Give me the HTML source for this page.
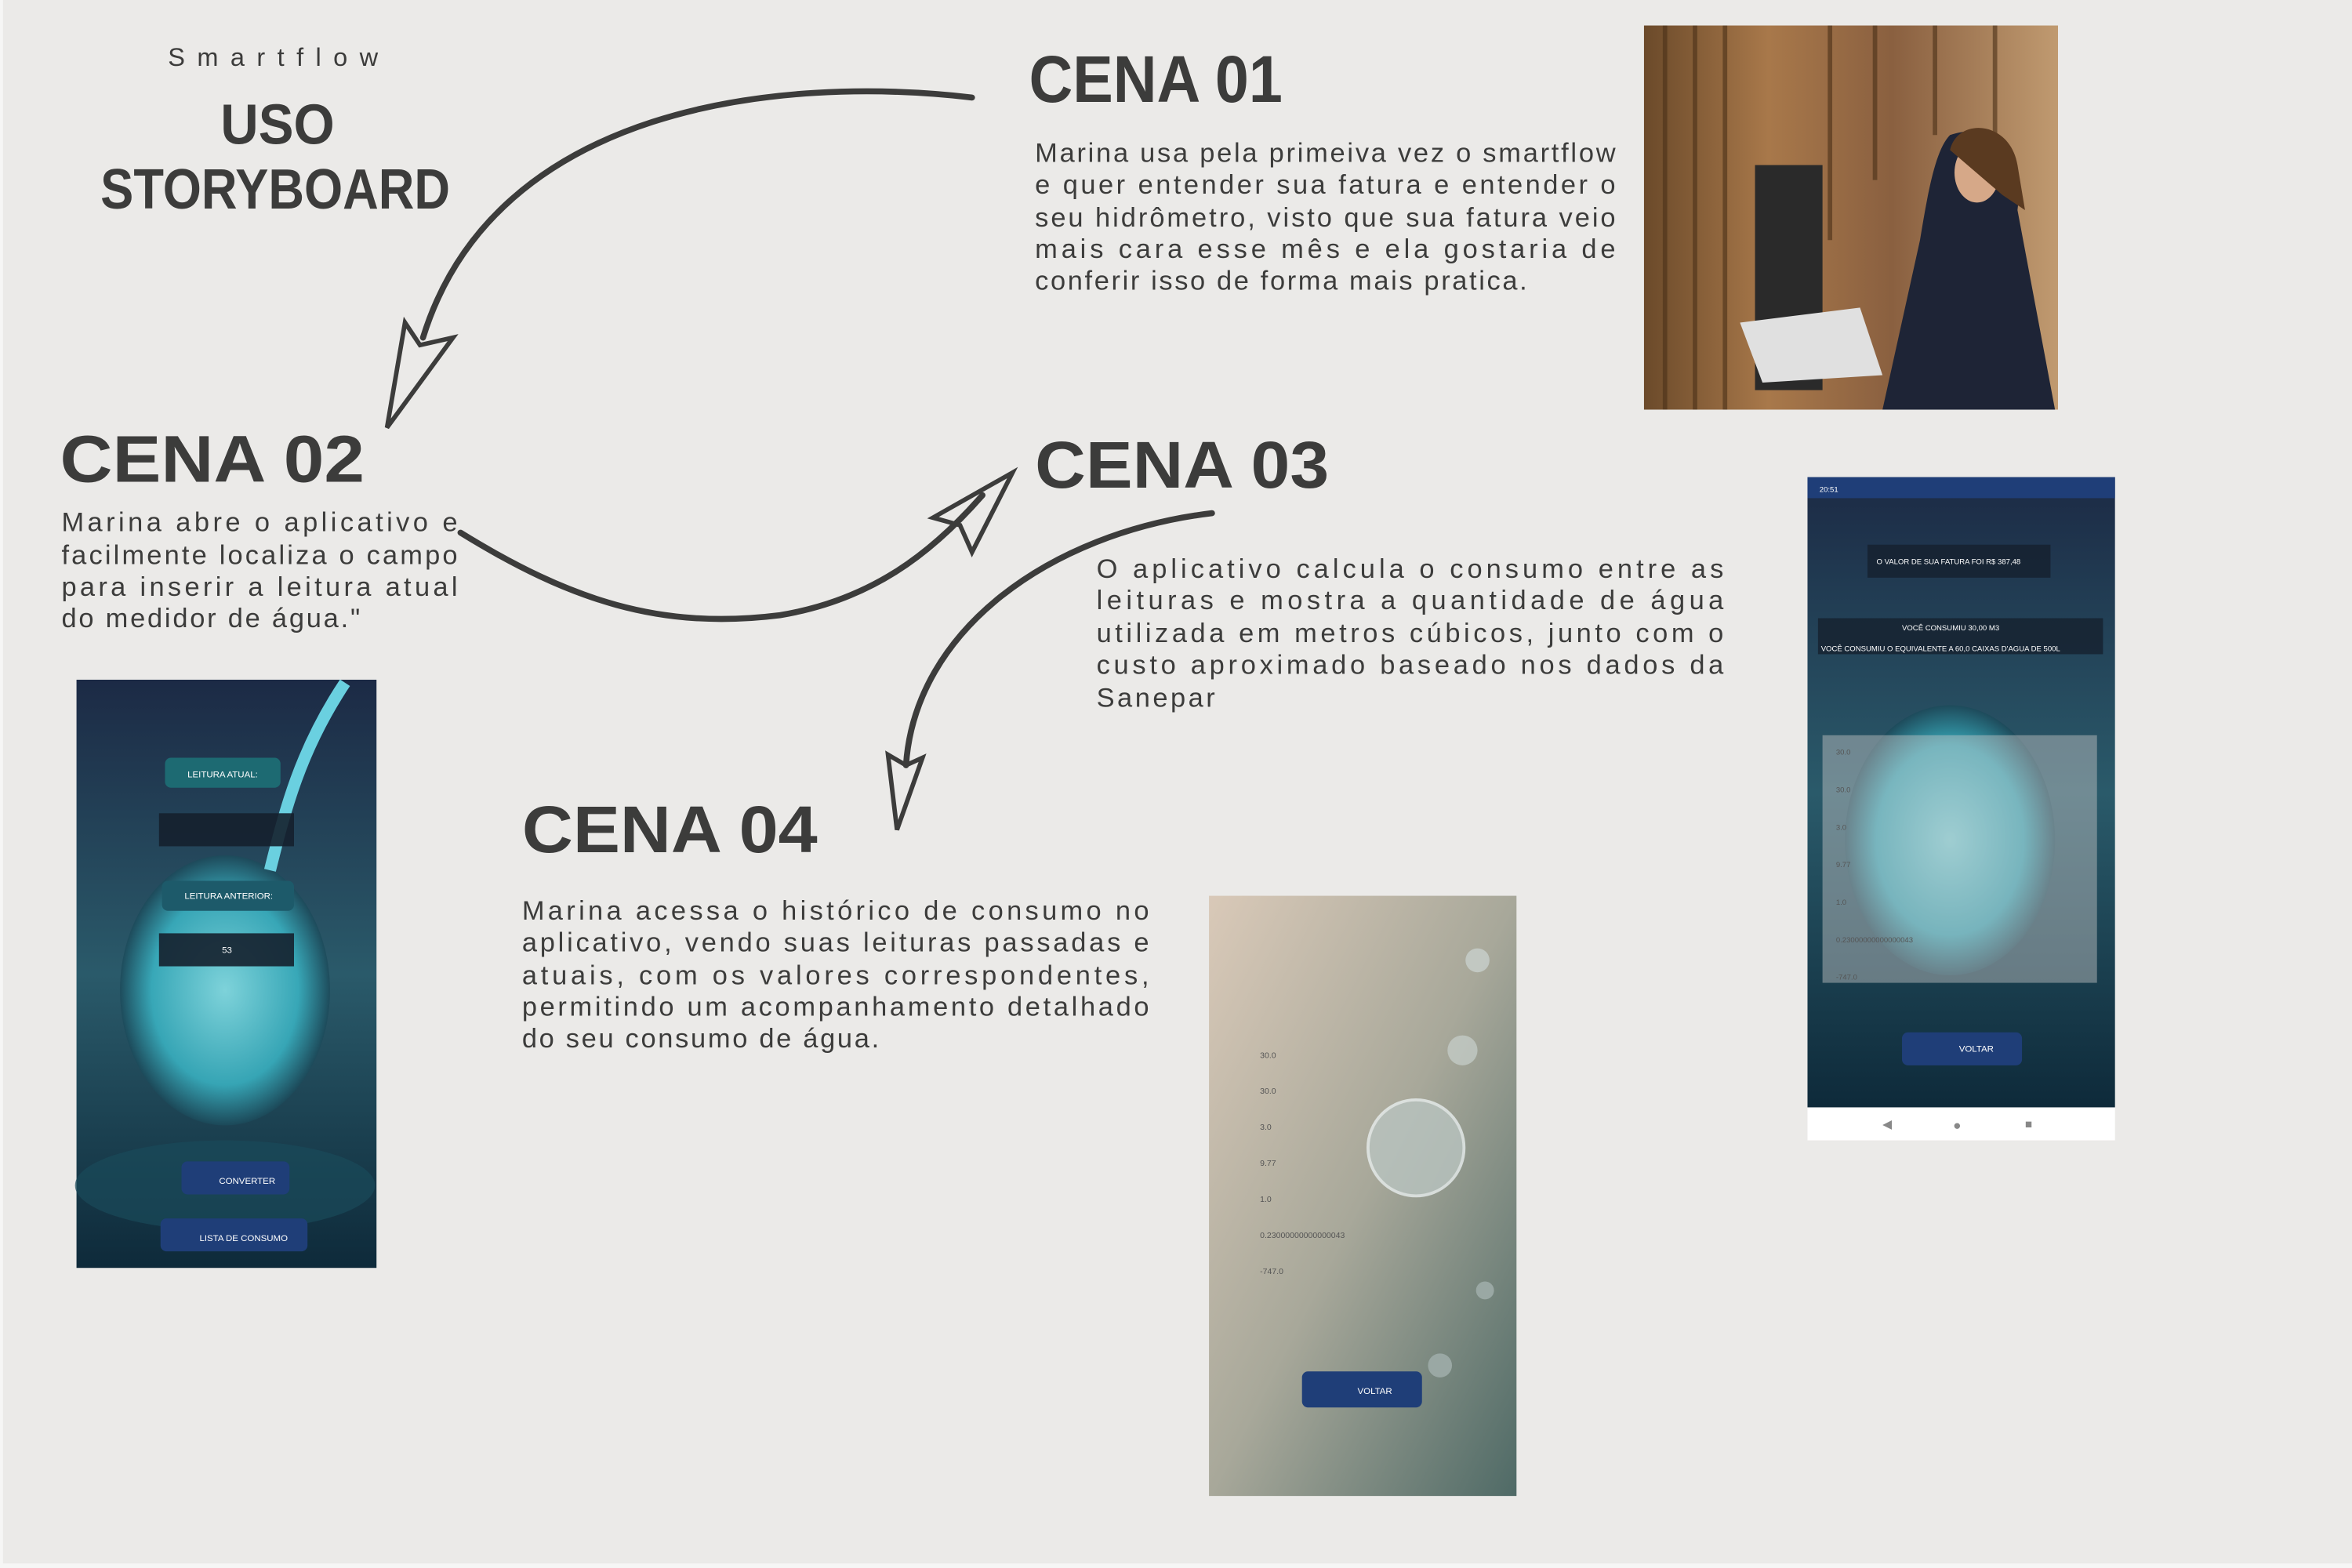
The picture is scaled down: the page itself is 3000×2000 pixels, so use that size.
<!DOCTYPE html>
<html><head><meta charset="utf-8"><style>
html,body{margin:0;padding:0;background:#ebeae8;}
svg{display:block}
.h{font-family:"Liberation Sans",sans-serif;font-weight:900;fill:#3c3c3b}
.p{font-family:"Liberation Sans",sans-serif;font-size:18px;fill:#3c3c3b}
.s{font-family:"Liberation Sans",sans-serif;fill:#fff;font-size:6px}
</style></head><body>
<svg width="3000" height="2000" viewBox="0 0 1568 1045" preserveAspectRatio="none" xmlns="http://www.w3.org/2000/svg">
<defs>
<linearGradient id="wood" x1="0" x2="1"><stop offset="0" stop-color="#6b4a2a"/><stop offset="0.3" stop-color="#a8784a"/><stop offset="0.6" stop-color="#8a6040"/><stop offset="1" stop-color="#c09a70"/></linearGradient>
<linearGradient id="ph" x1="0" y1="0" x2="0" y2="1"><stop offset="0" stop-color="#1c2a45"/><stop offset="0.5" stop-color="#2a5a6a"/><stop offset="1" stop-color="#0e2a3a"/></linearGradient>
<radialGradient id="glass" cx="0.5" cy="0.5" r="0.5"><stop offset="0" stop-color="#8de8ee"/><stop offset="0.7" stop-color="#3ab5c5"/><stop offset="1" stop-color="#1c4a5a"/></radialGradient>
<linearGradient id="bub" x1="0" y1="0" x2="1" y2="1"><stop offset="0" stop-color="#d9c9b8"/><stop offset="0.5" stop-color="#a8a89a"/><stop offset="1" stop-color="#4f6a66"/></linearGradient>
</defs>
<rect width="1568" height="1045" fill="#ebeae8"/>
<rect x="0" y="0" width="2" height="1045" fill="#f6f6f5"/>
<rect x="0" y="1042" width="1568" height="3" fill="#f6f6f5"/>

<text x="112" y="44" class="p" style="font-size:17px" textLength="140" lengthAdjust="spacing">Smartflow</text>
<text x="147" y="96" class="h" style="font-size:38px" textLength="76" lengthAdjust="spacingAndGlyphs">USO</text>
<text x="67" y="139" class="h" style="font-size:38px" textLength="233" lengthAdjust="spacingAndGlyphs">STORYBOARD</text>

<g fill="none" stroke="#3c3c3b" stroke-width="4" stroke-linecap="round">
<path d="M648,65 C520,50 330,70 282,225"/>
<path d="M258,285 L270,215 L280,230 L302,225 Z" stroke-width="3"/>
<path d="M307,355 C380,400 440,420 520,410 C580,400 620,370 655,330"/>
<path d="M675,315 L622,345 L640,350 L648,368 Z" stroke-width="3"/>
<path d="M808,342 C700,355 610,420 604,510"/>
<path d="M598,553 L592,503 L604,510 L615,505 Z" stroke-width="3"/>
</g>

<text x="686" y="68" class="h" style="font-size:44px" textLength="169" lengthAdjust="spacingAndGlyphs">CENA 01</text>
<g class="p">
<text x="690" y="108" textLength="387" lengthAdjust="spacing">Marina usa pela primeiva vez o smartflow</text>
<text x="690" y="129" textLength="387" lengthAdjust="spacing">e quer entender sua fatura e entender o</text>
<text x="690" y="151" textLength="387" lengthAdjust="spacing">seu hidrômetro, visto que sua fatura veio</text>
<text x="690" y="172" textLength="387" lengthAdjust="spacing">mais cara esse mês e ela gostaria de</text>
<text x="690" y="193" textLength="328" lengthAdjust="spacing">conferir isso de forma mais pratica.</text>
</g>
<g>
<rect x="1096" y="17" width="276" height="256" fill="url(#wood)"/>
<g stroke="#4a3018" stroke-width="3" opacity="0.6">
<line x1="1110" y1="17" x2="1110" y2="273"/><line x1="1130" y1="17" x2="1130" y2="273"/><line x1="1150" y1="17" x2="1150" y2="273"/><line x1="1220" y1="17" x2="1220" y2="160"/><line x1="1250" y1="17" x2="1250" y2="120"/><line x1="1290" y1="17" x2="1290" y2="90"/><line x1="1330" y1="17" x2="1330" y2="90"/></g>
<rect x="1170" y="110" width="45" height="150" fill="#2a2a2a"/>
<path d="M1300,90 C1330,80 1350,100 1345,140 L1370,273 L1255,273 L1280,160 C1285,130 1290,100 1300,90 Z" fill="#1e2436"/>
<ellipse cx="1318" cy="115" rx="15" ry="20" fill="#d6a888"/>
<path d="M1300,100 C1305,78 1340,80 1345,110 L1350,140 L1335,130 Z" fill="#5a3a20"/>
<path d="M1160,215 L1240,205 L1255,250 L1175,255 Z" fill="#e0e0e0"/>
</g>

<text x="40" y="321" class="h" style="font-size:44px" textLength="203" lengthAdjust="spacingAndGlyphs">CENA 02</text>
<g class="p">
<text x="41" y="354" textLength="264" lengthAdjust="spacing">Marina abre o aplicativo e</text>
<text x="41" y="376" textLength="264" lengthAdjust="spacing">facilmente localiza o campo</text>
<text x="41" y="397" textLength="264" lengthAdjust="spacing">para inserir a leitura atual</text>
<text x="41" y="418" textLength="199" lengthAdjust="spacing">do medidor de água."</text>
</g>
<g>
<rect x="51" y="453" width="200" height="392" fill="url(#ph)"/>
<ellipse cx="150" cy="660" rx="70" ry="90" fill="url(#glass)" opacity="0.85"/>
<path d="M230,455 C200,500 190,540 180,580" stroke="#6ad0e0" stroke-width="8" fill="none"/>
<ellipse cx="150" cy="790" rx="100" ry="30" fill="#1a4a5a" opacity="0.7"/>
<rect x="110" y="505" width="77" height="20" rx="4" fill="#1d6a72"/><text x="125" y="518" class="s">LEITURA ATUAL:</text>
<rect x="106" y="542" width="90" height="22" fill="#15202e" opacity="0.9"/>
<rect x="108" y="587" width="88" height="20" rx="4" fill="#1d5a6a"/><text x="123" y="599" class="s">LEITURA ANTERIOR:</text>
<rect x="106" y="622" width="90" height="22" fill="#15202e" opacity="0.9"/><text x="148" y="635" class="s">53</text>
<rect x="121" y="774" width="72" height="22" rx="4" fill="#1f3e78"/><text x="146" y="789" class="s">CONVERTER</text>
<rect x="107" y="812" width="98" height="22" rx="4" fill="#1f3e78"/><text x="133" y="827" class="s">LISTA DE CONSUMO</text>
</g>

<text x="690" y="325" class="h" style="font-size:44px" textLength="196" lengthAdjust="spacingAndGlyphs">CENA 03</text>
<g class="p">
<text x="731" y="385" textLength="418" lengthAdjust="spacing">O aplicativo calcula o consumo entre as</text>
<text x="731" y="406" textLength="418" lengthAdjust="spacing">leituras e mostra a quantidade de água</text>
<text x="731" y="428" textLength="418" lengthAdjust="spacing">utilizada em metros cúbicos, junto com o</text>
<text x="731" y="449" textLength="418" lengthAdjust="spacing">custo aproximado baseado nos dados da</text>
<text x="731" y="471" textLength="79" lengthAdjust="spacing">Sanepar</text>
</g>
<g>
<rect x="1205" y="318" width="205" height="442" fill="#ffffff"/>
<rect x="1205" y="318" width="205" height="420" fill="url(#ph)"/>
<rect x="1205" y="318" width="205" height="14" fill="#1f3e78"/>
<text x="1213" y="328" class="s" style="font-size:5px">20:51</text>
<ellipse cx="1300" cy="560" rx="70" ry="90" fill="url(#glass)" opacity="0.85"/>
<rect x="1215" y="490" width="183" height="165" fill="#c8c8c8" opacity="0.45"/>
<g class="s" style="font-size:5px;fill:#555"><text x="1224" y="503">30.0</text><text x="1224" y="528">30.0</text><text x="1224" y="553">3.0</text><text x="1224" y="578">9.77</text><text x="1224" y="603">1.0</text><text x="1224" y="628">0.23000000000000043</text><text x="1224" y="653">-747.0</text></g>
<rect x="1245" y="363" width="122" height="22" fill="#15202e" opacity="0.8"/><text x="1251" y="376" class="s" style="font-size:5px">O VALOR DE SUA FATURA FOI R$ 387,48</text>
<rect x="1212" y="412" width="190" height="24" fill="#15202e" opacity="0.8"/><text x="1268" y="420" class="s" style="font-size:5px">VOCÊ CONSUMIU 30,00 M3</text><text x="1214" y="434" class="s" style="font-size:5px">VOCÊ CONSUMIU O EQUIVALENTE A 60,0 CAIXAS D'AGUA DE 500L</text>
<rect x="1268" y="688" width="80" height="22" rx="4" fill="#1f3e78"/><text x="1306" y="701" class="s">VOLTAR</text>
<text x="1255" y="752" style="font-size:8px;fill:#888">◀</text><text x="1302" y="753" style="font-size:9px;fill:#888">●</text><text x="1350" y="752" style="font-size:8px;fill:#888">■</text>
</g>

<text x="348" y="568" class="h" style="font-size:44px" textLength="197" lengthAdjust="spacingAndGlyphs">CENA 04</text>
<g class="p">
<text x="348" y="613" textLength="418" lengthAdjust="spacing">Marina acessa o histórico de consumo no</text>
<text x="348" y="634" textLength="418" lengthAdjust="spacing">aplicativo, vendo suas leituras passadas e</text>
<text x="348" y="656" textLength="418" lengthAdjust="spacing">atuais, com os valores correspondentes,</text>
<text x="348" y="677" textLength="418" lengthAdjust="spacing">permitindo um acompanhamento detalhado</text>
<text x="348" y="698" textLength="238" lengthAdjust="spacing">do seu consumo de água.</text>
</g>
<g>
<rect x="806" y="597" width="205" height="400" fill="url(#bub)"/>
<circle cx="944" cy="765" r="32" fill="#b9c4c0" stroke="#e8eeee" stroke-width="2" opacity="0.8"/>
<circle cx="985" cy="640" r="8" fill="#c8d0cc" opacity="0.8"/><circle cx="975" cy="700" r="10" fill="#c8d0cc" opacity="0.7"/><circle cx="960" cy="910" r="8" fill="#9aa8a4"/><circle cx="990" cy="860" r="6" fill="#9aa8a4"/>
<g class="s" style="font-size:5.5px;fill:#555"><text x="840" y="705">30.0</text><text x="840" y="729">30.0</text><text x="840" y="753">3.0</text><text x="840" y="777">9.77</text><text x="840" y="801">1.0</text><text x="840" y="825">0.23000000000000043</text><text x="840" y="849">-747.0</text></g>
<rect x="868" y="914" width="80" height="24" rx="4" fill="#1f3e78"/><text x="905" y="929" class="s">VOLTAR</text>
</g>
</svg>
</body></html>
